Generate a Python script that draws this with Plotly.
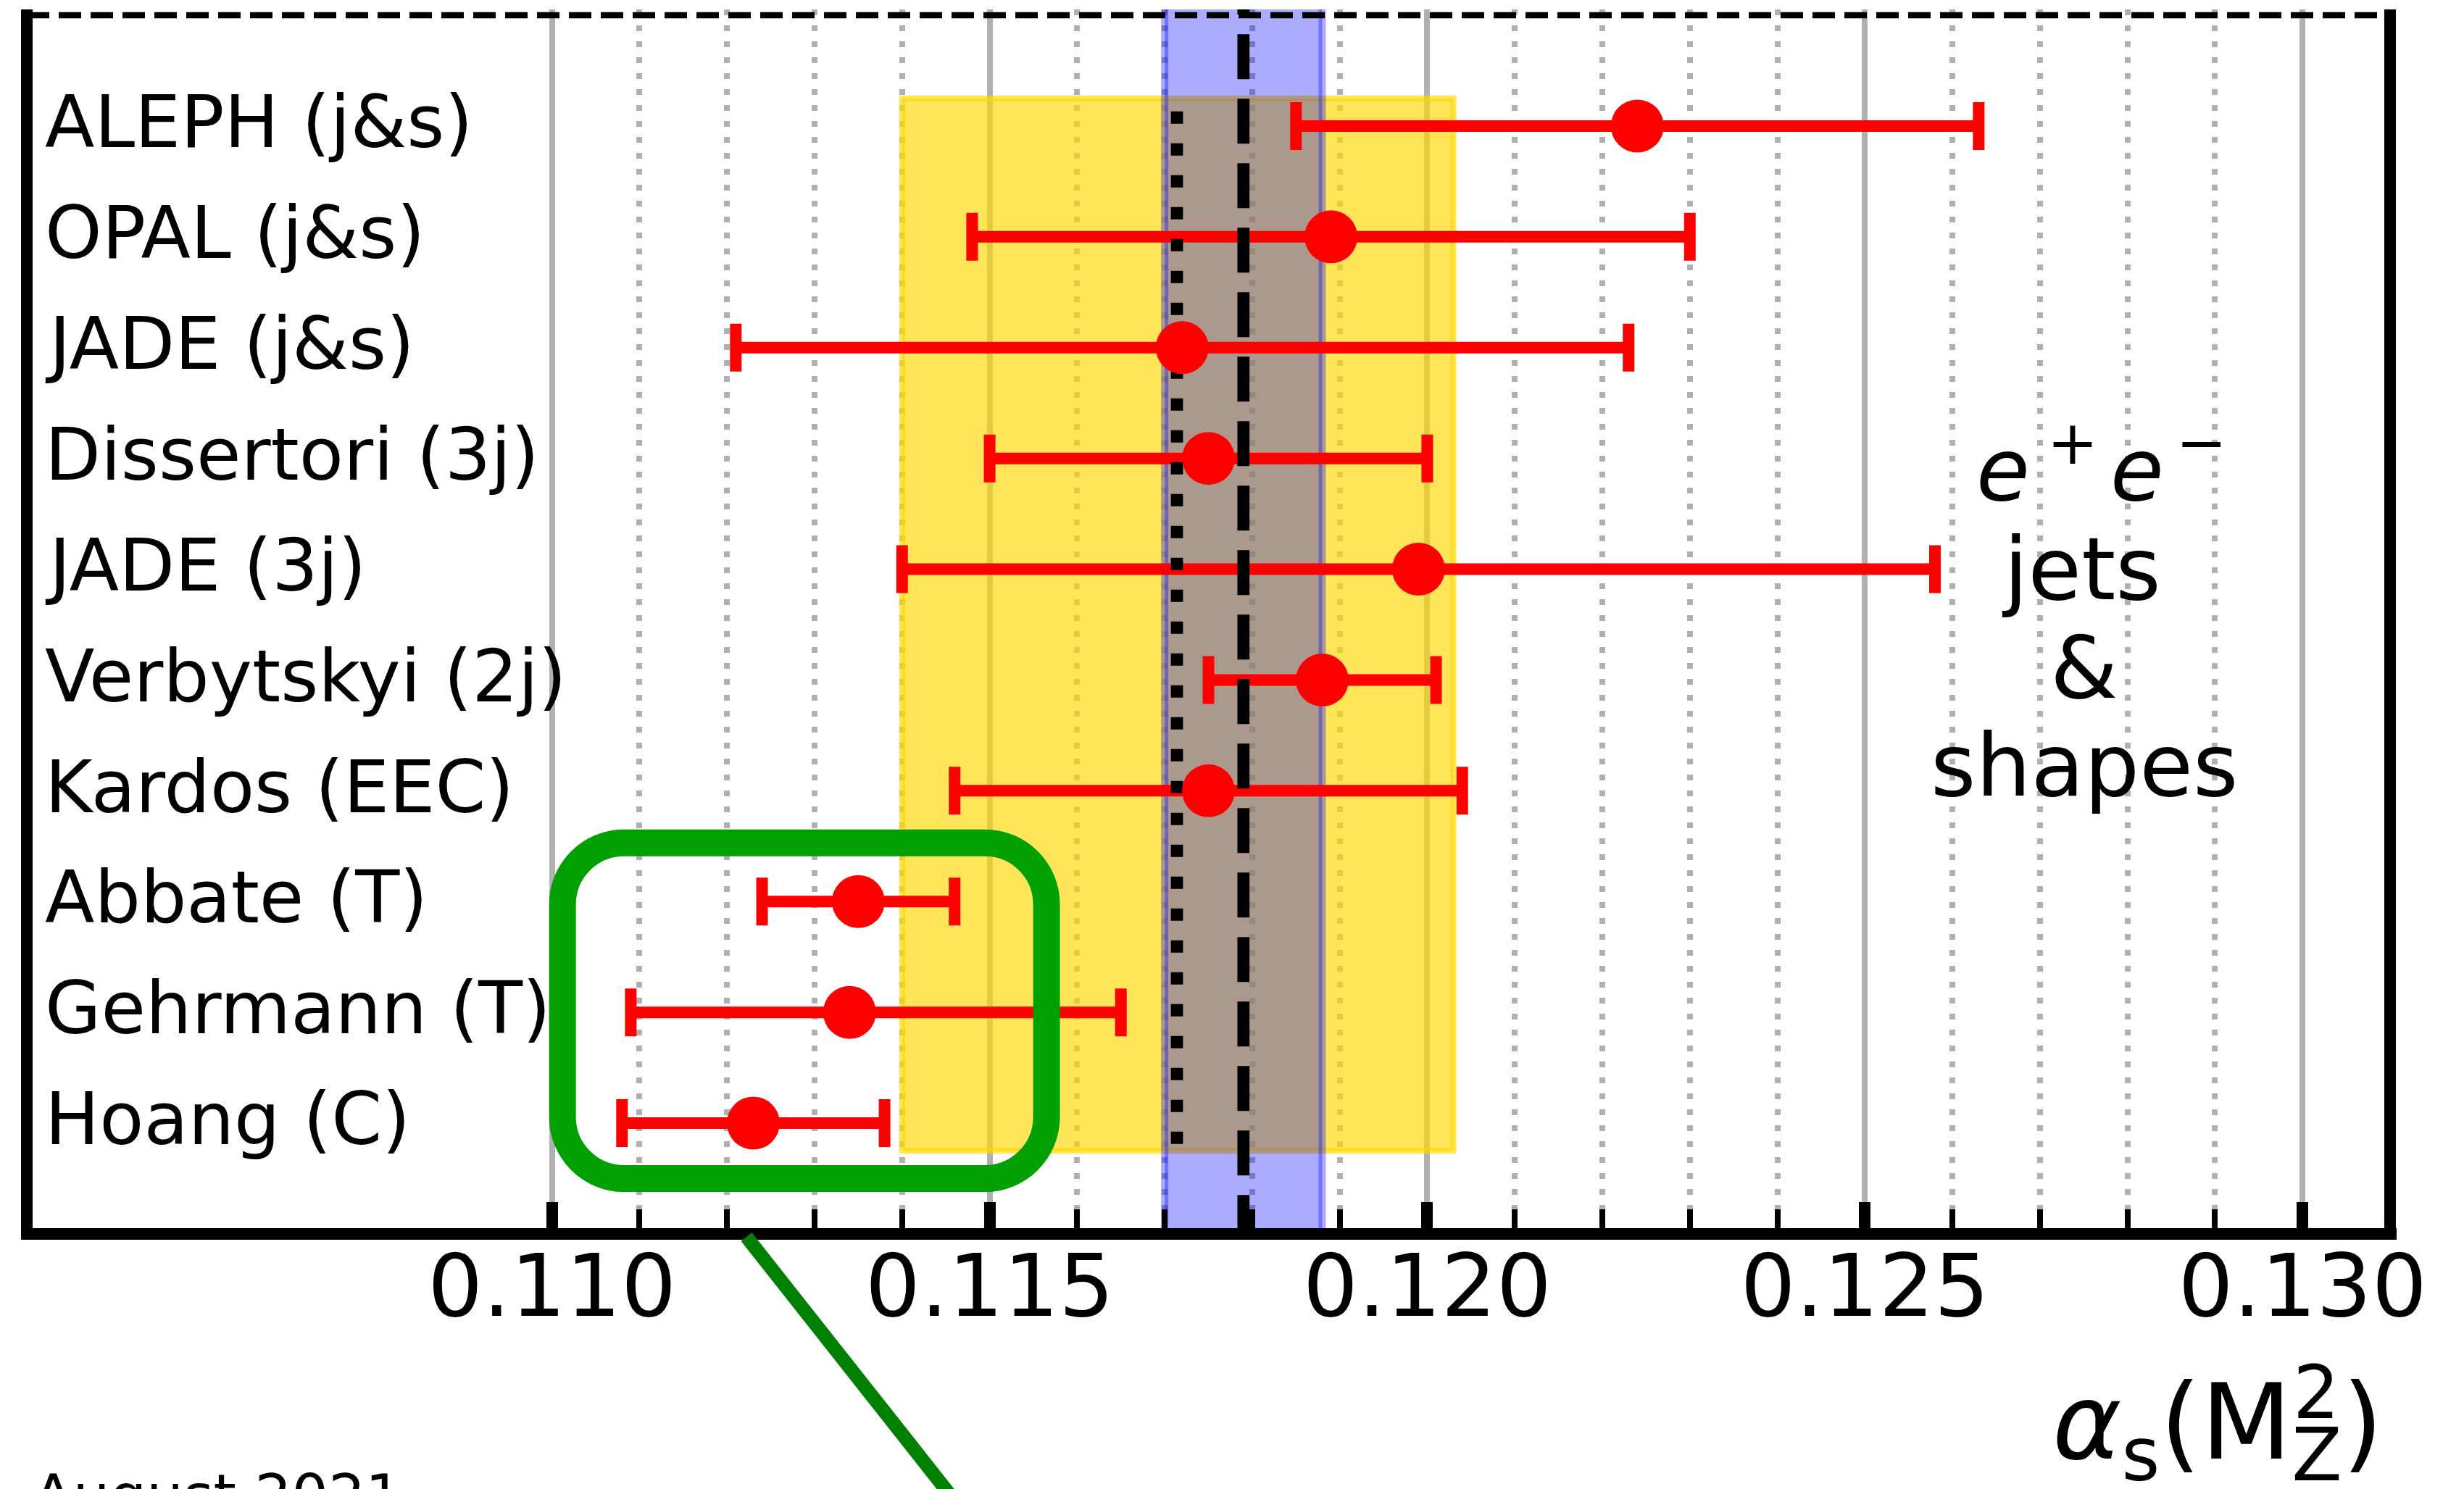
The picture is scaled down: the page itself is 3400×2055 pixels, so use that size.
import plotly.graph_objects as go

# ---------------- data ----------------
labels = ["ALEPH (j&s)", "OPAL (j&s)", "JADE (j&s)", "Dissertori (3j)", "JADE (3j)",
          "Verbytskyi (2j)", "Kardos (EEC)", "Abbate (T)", "Gehrmann (T)", "Hoang (C)"]
rows = [10, 9, 8, 7, 6, 5, 4, 3, 2, 1]
values = [0.1224, 0.1189, 0.1172, 0.1175, 0.1199, 0.1188, 0.1175, 0.1135, 0.1134, 0.1123]
err_plus = [0.0039, 0.0041, 0.0051, 0.0025, 0.0059, 0.0013, 0.0029, 0.0011, 0.0031, 0.0015]
err_minus = [0.0039, 0.0041, 0.0051, 0.0025, 0.0059, 0.0013, 0.0029, 0.0011, 0.0025, 0.0015]

world_avg = 0.1179
world_lo, world_hi = 0.1170, 0.1188
ee_avg = 0.11714
ee_lo, ee_hi = 0.1140, 0.1203

major_ticks = [0.110, 0.115, 0.120, 0.125, 0.130]
minor_ticks = [0.111, 0.112, 0.113, 0.114, 0.116, 0.117, 0.118, 0.119,
               0.121, 0.122, 0.123, 0.124, 0.126, 0.127, 0.128, 0.129]
tick_text = ["0.110", "0.115", "0.120", "0.125", "0.130"]

# highlight box around the last three rows
box_x0, box_x1 = 0.11012, 0.11565
box_y0, box_y1 = 0.50, 3.53

# ---------------- layout geometry (px) ----------------
FW, FH = 3400, 2055
L, R, T, B = 37, 3298, 13, 1703
W, H = R - L, B - T
XR = [0.104, 0.131]
YR = [0.0, 11.0523]
FONT = "DejaVu Sans"


def px_x(px):
    return (px - L) / W


def px_y(py):
    return (B - py) / H


fig = go.Figure()

# error bars (markers invisible)
fig.add_trace(go.Scatter(
    x=values, y=rows, mode="markers",
    marker=dict(size=1, color="rgba(0,0,0,0)"),
    error_x=dict(type="data", symmetric=False, array=err_plus, arrayminus=err_minus,
                 color="red", thickness=16, width=33),
    hoverinfo="skip", showlegend=False))

# world average dashed line
fig.add_trace(go.Scatter(
    x=[world_avg, world_avg], y=[11.41, 0.0], mode="lines",
    line=dict(color="black", width=16.7, dash="62px,27px"),
    hoverinfo="skip", showlegend=False))

# e+e- average dotted line
fig.add_trace(go.Scatter(
    x=[ee_avg, ee_avg], y=[10.25, 0.75], mode="lines",
    line=dict(color="black", width=16.7, dash="0px,18px,17px,9px"),
    hoverinfo="skip", showlegend=False))

# central values
fig.add_trace(go.Scatter(
    x=values, y=rows, mode="markers",
    marker=dict(size=73, color="red", line=dict(width=0)),
    hoverinfo="skip", showlegend=False))

shapes = []
# yellow e+e- band
shapes.append(dict(type="rect", xref="x", yref="y", x0=ee_lo, x1=ee_hi, y0=0.75, y1=10.25,
                   fillcolor="rgba(255,215,0,0.66)", line=dict(color="rgba(255,215,0,0.66)", width=8),
                   layer="between"))
# blue world average band
shapes.append(dict(type="rect", xref="x", yref="y", x0=world_lo, x1=world_hi, y0=-0.2, y1=YR[1] + 0.2,
                   fillcolor="rgba(0,0,255,0.33)", line=dict(color="rgba(0,0,255,0.33)", width=10),
                   layer="between"))
# top dashed separator
shapes.append(dict(type="line", xref="paper", yref="y", x0=0, x1=1, y0=11, y1=11,
                   line=dict(color="black", width=8.3, dash="31px,13px"), layer="above"))

# green rounded box
k = 0.5523
rx = 85 / (W / (XR[1] - XR[0]))
ry = 85 / (H / (YR[1] - YR[0]))
x0, x1, y0, y1 = box_x0, box_x1, box_y0, box_y1
path = (
    f"M {x0+rx},{y1} L {x1-rx},{y1} "
    f"C {x1-rx+k*rx},{y1} {x1},{y1-ry+k*ry} {x1},{y1-ry} "
    f"L {x1},{y0+ry} "
    f"C {x1},{y0+ry-k*ry} {x1-rx+k*rx},{y0} {x1-rx},{y0} "
    f"L {x0+rx},{y0} "
    f"C {x0+rx-k*rx},{y0} {x0},{y0+ry-k*ry} {x0},{y0+ry} "
    f"L {x0},{y1-ry} "
    f"C {x0},{y1-ry+k*ry} {x0+rx-k*rx},{y1} {x0+rx},{y1} Z"
)
shapes.append(dict(type="path", xref="x", yref="y", path=path,
                   line=dict(color="#00a000", width=37), fillcolor="rgba(0,0,0,0)", layer="above"))

# spines
shapes.append(dict(type="line", xref="paper", yref="paper", x0=0, x1=0, y0=px_y(1711), y1=1,
                   line=dict(color="black", width=16), layer="above"))
shapes.append(dict(type="line", xref="paper", yref="paper", x0=1, x1=1, y0=px_y(1711), y1=1,
                   line=dict(color="black", width=16), layer="above"))
shapes.append(dict(type="line", xref="paper", yref="paper", x0=px_x(29), x1=px_x(3307), y0=0, y1=0,
                   line=dict(color="black", width=16), layer="above"))

# green connector line
shapes.append(dict(type="line", xref="paper", yref="paper",
                   x0=px_x(1030), y0=px_y(1707), x1=px_x(1419), y1=px_y(2200),
                   line=dict(color="green", width=19), layer="above"))

annotations = []
for lab, r in zip(labels, rows):
    annotations.append(dict(text=lab, xref="paper", yref="y", x=0, y=r, xshift=25, yshift=63.8,
                            xanchor="left", yanchor="top", showarrow=False, borderpad=0, borderwidth=0,
                            font=dict(family=FONT, size=100, color="black")))

# e+e- jets & shapes
side_lines = [("<i>e</i>\u2009<sup>+\u2009</sup><i>e</i><sup>\u2009−</sup>", 2900, 690),
              ("jets", 2872, 827), ("&", 2876, 963), ("shapes", 2876, 1098)]
for txt, cx, base in side_lines:
    annotations.append(dict(text=txt, xref="paper", yref="paper", x=px_x(cx), y=px_y(base + 0.236 * 120),
                            xanchor="center", yanchor="bottom", showarrow=False, borderpad=0, borderwidth=0,
                            font=dict(family=FONT, size=120, color="black")))

# axis label alpha_s(M_Z^2)
annotations.append(dict(text="<i>α</i><sub>s</sub>(M<sub>Z</sub>)", xref="paper", yref="paper",
                        x=px_x(2832), y=px_y(2013 - 0.928 * 145), xanchor="left", yanchor="top",
                        showarrow=False, borderpad=0, borderwidth=0,
                        font=dict(family=FONT, size=145, color="black")))
annotations.append(dict(text="2", xref="paper", yref="paper",
                        x=px_x(3164), y=px_y(1957 - 0.928 * 101), xanchor="left", yanchor="top",
                        showarrow=False, borderpad=0, borderwidth=0,
                        font=dict(family=FONT, size=101, color="black")))

# date
annotations.append(dict(text="August 2021", xref="paper", yref="paper",
                        x=px_x(46), y=px_y(2092 - 0.928 * 80), xanchor="left", yanchor="top",
                        showarrow=False, borderpad=0, borderwidth=0,
                        font=dict(family=FONT, size=80, color="black")))

fig.update_layout(
    width=FW, height=FH,
    margin=dict(l=L, r=FW - R, t=T, b=FH - B, pad=0),
    paper_bgcolor="white", plot_bgcolor="white",
    showlegend=False,
    shapes=shapes, annotations=annotations,
    xaxis=dict(range=XR, tickmode="array", tickvals=major_ticks, ticktext=tick_text,
               ticks="inside", ticklen=44, tickwidth=16, tickcolor="black",
               showgrid=True, gridcolor="#b0b0b0", gridwidth=8,
               showline=False, zeroline=False, automargin=False,
               ticklabelstandoff=-8,
               tickfont=dict(family=FONT, size=120, color="black"),
               minor=dict(tickmode="array", tickvals=minor_ticks, ticks="inside", ticklen=34,
                          tickwidth=8, tickcolor="black", showgrid=True, gridcolor="#b0b0b0",
                          gridwidth=8, griddash="8px,14px")),
    yaxis=dict(range=YR, showgrid=False, zeroline=False, showticklabels=False, ticks="",
               showline=False, automargin=False),
)

fig.write_html("out.html", config={"displayModeBar": False, "staticPlot": True},
               post_script="document.body.style.margin='0';document.body.style.overflow='hidden';")
